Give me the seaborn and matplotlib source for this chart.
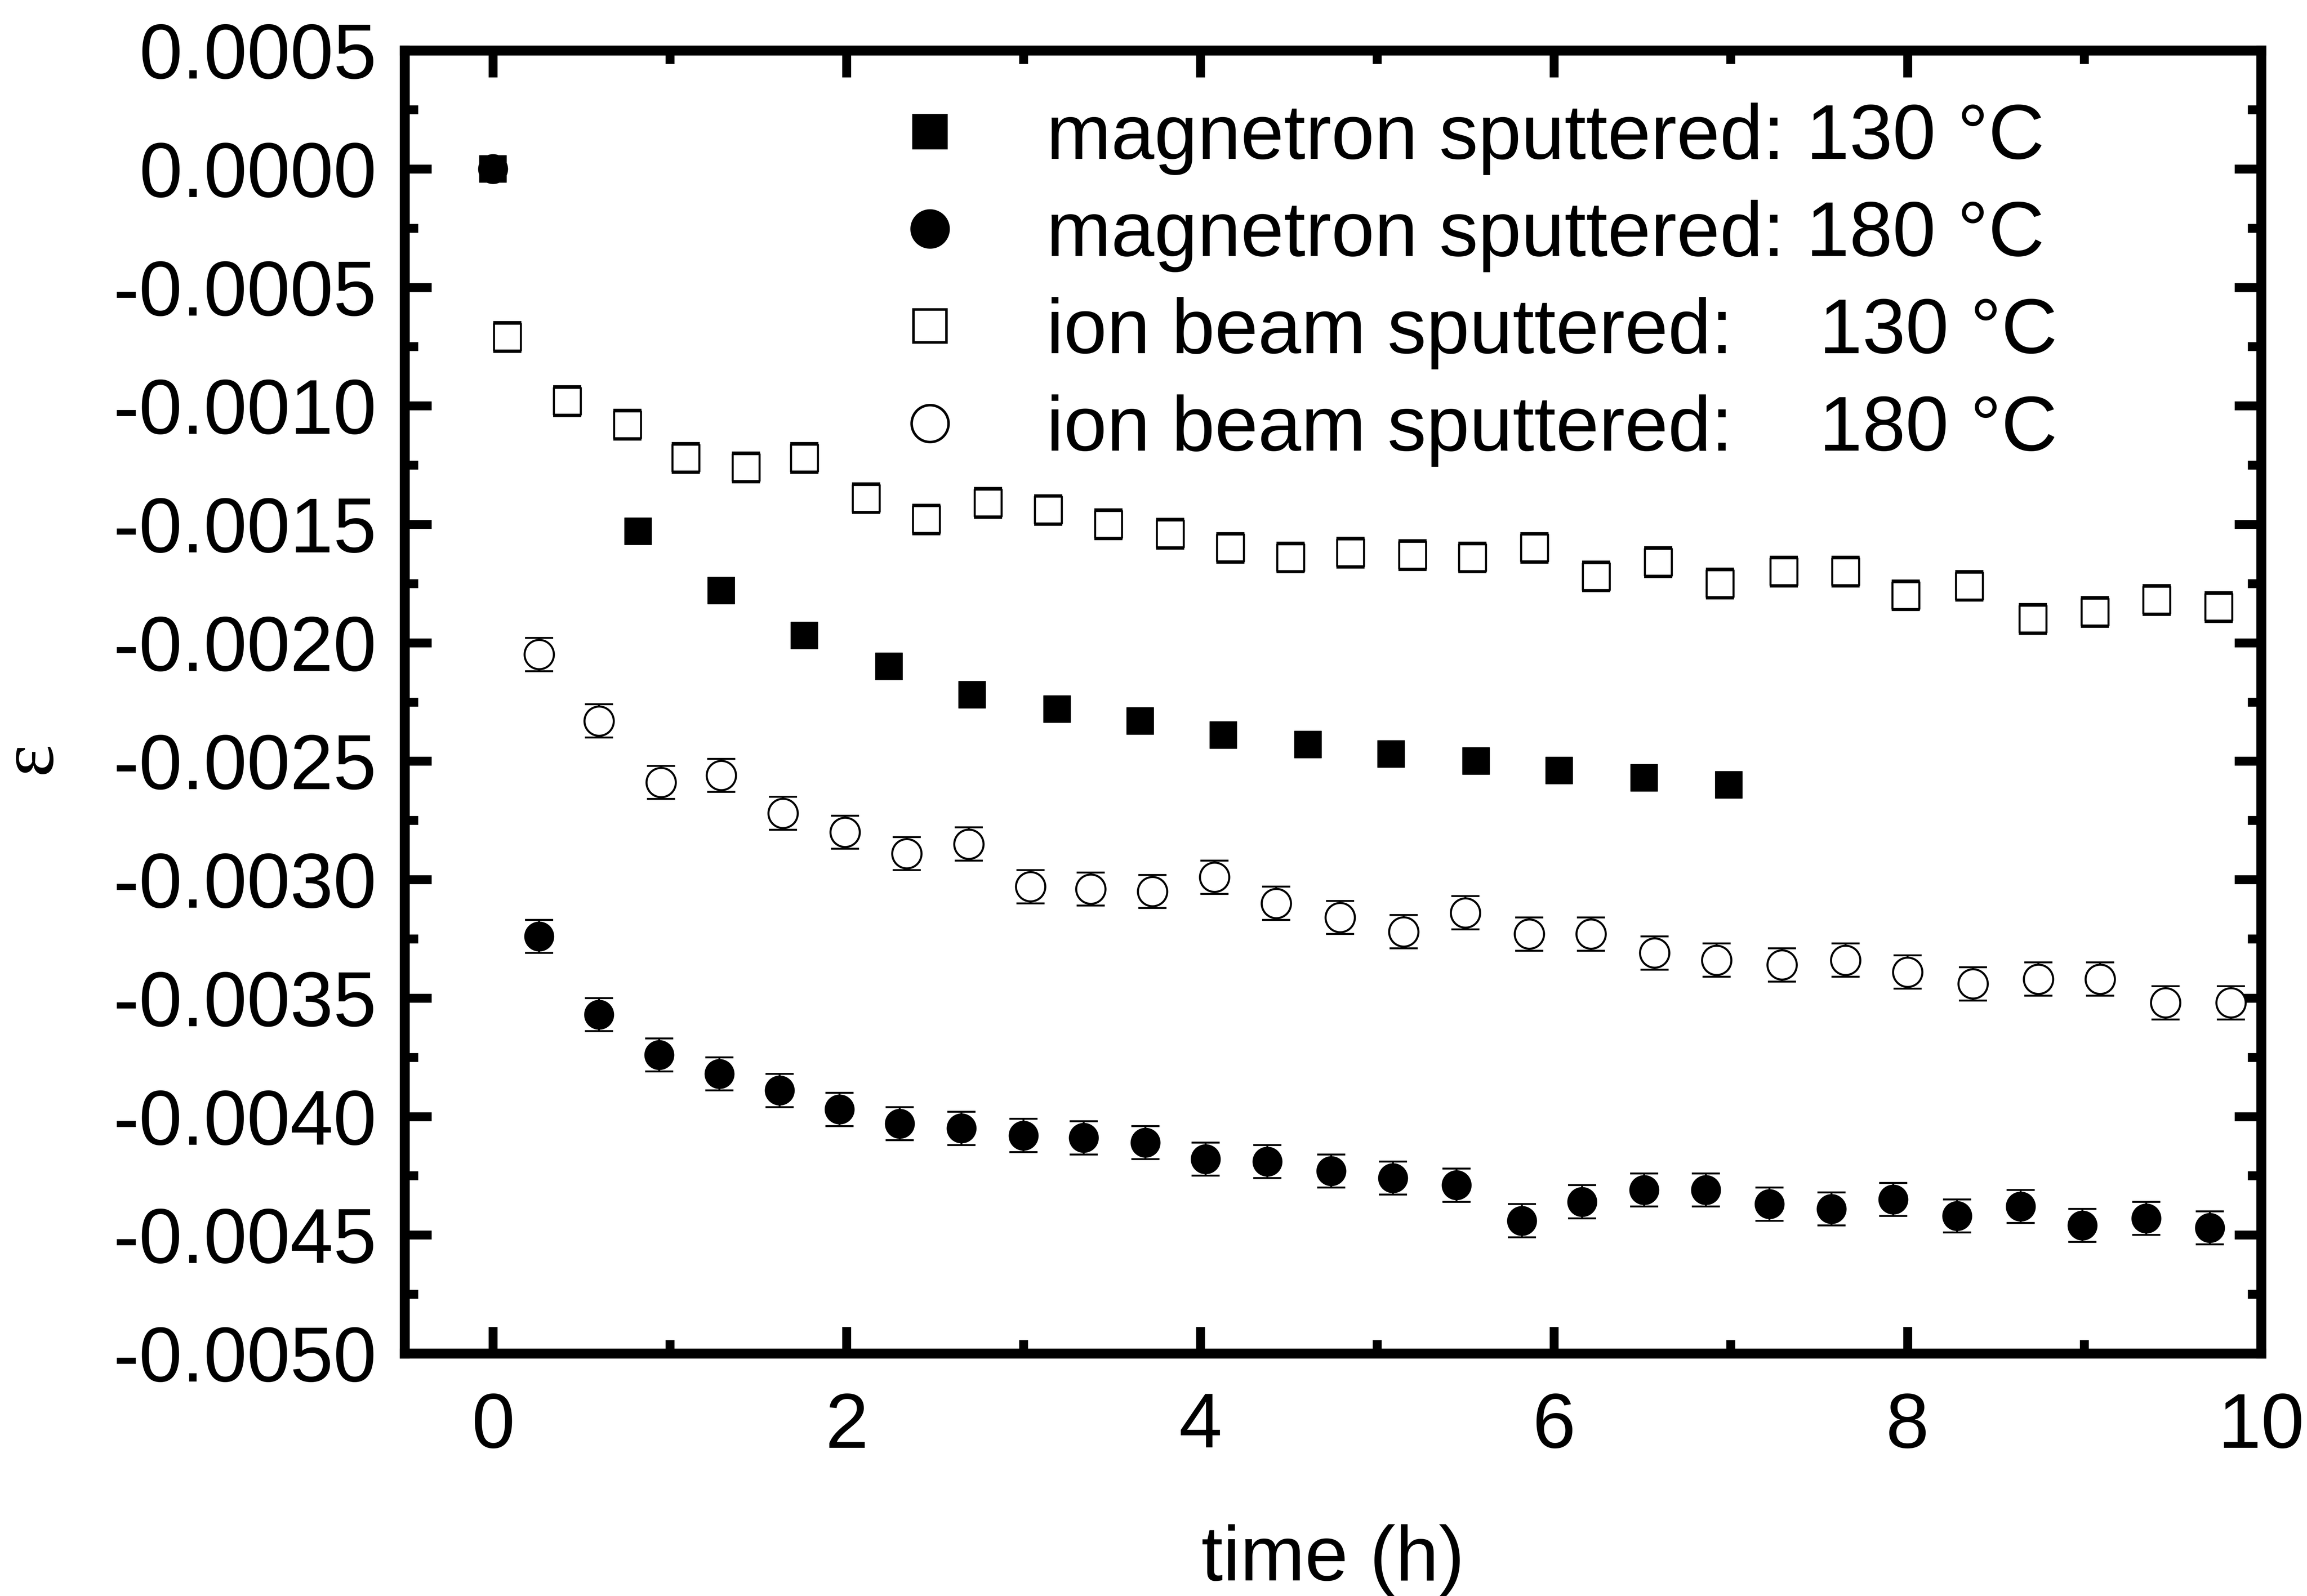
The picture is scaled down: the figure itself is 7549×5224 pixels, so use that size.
import numpy as np
import pandas as pd
import matplotlib
matplotlib.use("Agg")
import matplotlib.pyplot as plt
import seaborn as sns
from matplotlib.lines import Line2D
from matplotlib.ticker import FixedLocator, MultipleLocator, FixedFormatter

# ---------------- data ----------------
ms130_t = [0.0, 0.82, 1.29, 1.76, 2.24, 2.71, 3.19, 3.66, 4.13, 4.61, 5.08, 5.56, 6.03, 6.51, 6.99]
ms130_e = [0.0, -0.00153, -0.00178, -0.00197, -0.00210, -0.00222, -0.00228, -0.00233,
           -0.00239, -0.00243, -0.00247, -0.00250, -0.00254, -0.00257, -0.00260]

ms180_t = [0.0, 0.26, 0.60, 0.94, 1.28, 1.62, 1.96, 2.30, 2.65, 3.00, 3.34, 3.69, 4.03, 4.38,
           4.74, 5.09, 5.45, 5.82, 6.16, 6.51, 6.86, 7.22, 7.57, 7.92, 8.28, 8.64, 8.99, 9.35, 9.71]
ms180_e = [0.0, -0.00324, -0.00357, -0.00374, -0.00382, -0.00389, -0.00397, -0.00403, -0.00405,
           -0.00408, -0.00409, -0.00411, -0.00418, -0.00419, -0.00423, -0.00426, -0.00429,
           -0.00444, -0.00436, -0.00431, -0.00431, -0.00437, -0.00439, -0.00435, -0.00442,
           -0.00438, -0.00446, -0.00443, -0.00447]
ms180_err = [0.0] + [0.00007] * 28

ib130_t = [0.08, 0.42, 0.76, 1.09, 1.43, 1.76, 2.11, 2.45, 2.80, 3.14, 3.48, 3.83, 4.17, 4.51,
           4.85, 5.20, 5.54, 5.89, 6.24, 6.59, 6.94, 7.30, 7.65, 7.99, 8.35, 8.71, 9.06, 9.41, 9.76]
ib130_e = [-0.00071, -0.00098, -0.00108, -0.00122, -0.00126, -0.00122, -0.00139, -0.00148,
           -0.00141, -0.00144, -0.00150, -0.00154, -0.00160, -0.00164, -0.00162, -0.00163,
           -0.00164, -0.00160, -0.00172, -0.00166, -0.00175, -0.00170, -0.00170, -0.00180,
           -0.00176, -0.00190, -0.00187, -0.00182, -0.00185]
ib130_err = [0.000063] * 29

ib180_t = [0.26, 0.60, 0.95, 1.29, 1.64, 1.99, 2.34, 2.69, 3.04, 3.38, 3.73, 4.08, 4.43, 4.79,
           5.15, 5.50, 5.86, 6.21, 6.57, 6.92, 7.29, 7.65, 8.00, 8.37, 8.74, 9.09, 9.46, 9.83]
ib180_e = [-0.00205, -0.00233, -0.00259, -0.00256, -0.00272, -0.00280, -0.00289, -0.00285,
           -0.00303, -0.00304, -0.00305, -0.00299, -0.00310, -0.00316, -0.00322, -0.00314,
           -0.00323, -0.00323, -0.00331, -0.00334, -0.00336, -0.00334, -0.00339, -0.00344,
           -0.00342, -0.00342, -0.00352, -0.00352]
ib180_err = [0.00007] * 28

labels = ["magnetron sputtered: 130 °C",
          "magnetron sputtered: 180 °C",
          "ion beam sputtered:    130 °C",
          "ion beam sputtered:    180 °C"]
y_ticks = [0.0005, 0.0, -0.0005, -0.0010, -0.0015, -0.0020, -0.0025, -0.0030,
           -0.0035, -0.0040, -0.0045, -0.0050]
y_ticklabels = ["0.0005", "0.0000", "-0.0005", "-0.0010", "-0.0015", "-0.0020", "-0.0025",
                "-0.0030", "-0.0035", "-0.0040", "-0.0045", "-0.0050"]
x_ticks = [0, 2, 4, 6, 8, 10]
x_ticklabels = ["0", "2", "4", "6", "8", "10"]

# ---------------- style ----------------
sns.set_theme(style="ticks")
plt.rcParams["font.family"] = ["Liberation Sans", "DejaVu Sans"]
FS = 61

fig = plt.figure(figsize=(7549 / 300, 5224 / 300), dpi=300)
ax = fig.add_axes([0.1754, 0.1520, 0.8047, 0.8164])

SQ = 21
CI = 23
EW = 1.6

def err(t, e, yerr):
    ax.errorbar(t, e, yerr=yerr, fmt="none", ecolor="black", elinewidth=1.5,
                capsize=11, capthick=1.5, zorder=2)

err(ib130_t, ib130_e, ib130_err)
err(ib180_t, ib180_e, ib180_err)
err(ms180_t, ms180_e, ms180_err)

df_ms130 = pd.DataFrame({"t": ms130_t, "e": ms130_e})
df_ms180 = pd.DataFrame({"t": ms180_t, "e": ms180_e})
df_ib130 = pd.DataFrame({"t": ib130_t, "e": ib130_e})
df_ib180 = pd.DataFrame({"t": ib180_t, "e": ib180_e})

sns.scatterplot(data=df_ib130, x="t", y="e", marker="s", s=SQ ** 2, facecolor="white",
                edgecolor="black", linewidth=EW, ax=ax, zorder=3)
sns.scatterplot(data=df_ib180, x="t", y="e", marker="o", s=CI ** 2, facecolor="white",
                edgecolor="black", linewidth=EW, ax=ax, zorder=3)
sns.scatterplot(data=df_ms130, x="t", y="e", marker="s", s=SQ ** 2, color="black",
                edgecolor="black", linewidth=0.5, ax=ax, zorder=4)
sns.scatterplot(data=df_ms180, x="t", y="e", marker="o", s=CI ** 2, color="black",
                edgecolor="black", linewidth=0.5, ax=ax, zorder=4)

ax.set_xlim(-0.5, 10)
ax.set_ylim(-0.005, 0.0005)

ax.xaxis.set_major_locator(FixedLocator(x_ticks))
ax.xaxis.set_major_formatter(FixedFormatter(x_ticklabels))
ax.xaxis.set_minor_locator(MultipleLocator(1))
ax.yaxis.set_major_locator(FixedLocator(y_ticks))
ax.yaxis.set_major_formatter(FixedFormatter(y_ticklabels))
ax.yaxis.set_minor_locator(MultipleLocator(0.00025))

for s in ax.spines.values():
    s.set_linewidth(7.8)
    s.set_color("black")
    s.set_visible(True)

ax.tick_params(which="both", direction="in", top=True, right=True, color="black",
               width=7.0, labelsize=FS, labelcolor="black")
ax.tick_params(which="major", length=21)
ax.tick_params(which="minor", length=10.5)
ax.tick_params(axis="x", which="major", pad=30)
ax.tick_params(axis="y", which="major", pad=22)

ax.set_xlabel("time (h)", fontsize=FS, color="black")
ax.set_ylabel("ε", fontsize=FS, color="black", family=["Liberation Serif", "DejaVu Serif"])
ax.xaxis.set_label_coords(0.5, -0.131)
ax.yaxis.set_label_coords(-0.182, 0.457)

handles = [
    Line2D([], [], marker="s", linestyle="none", markersize=27, markerfacecolor="black",
           markeredgecolor="black"),
    Line2D([], [], marker="o", linestyle="none", markersize=30, markerfacecolor="black",
           markeredgecolor="black"),
    Line2D([], [], marker="s", linestyle="none", markersize=26, markerfacecolor="white",
           markeredgecolor="black", markeredgewidth=2.0),
    Line2D([], [], marker="o", linestyle="none", markersize=29, markerfacecolor="white",
           markeredgecolor="black", markeredgewidth=2.0),
]
ax.legend(handles, labels, loc="upper left", bbox_to_anchor=(0.262, 0.960), frameon=False,
          fontsize=FS, handlelength=1.0, handletextpad=1.0, borderpad=0, borderaxespad=0,
          labelspacing=0.32, labelcolor="black")

fig.savefig("out.png", dpi=300, facecolor="white")
